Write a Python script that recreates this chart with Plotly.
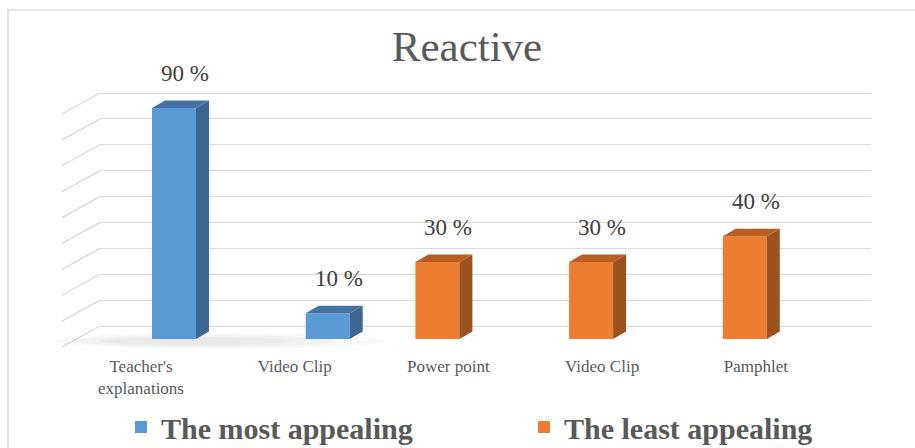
import plotly.graph_objects as go

# ---------------- data ----------------
categories = ["Teacher's<br>explanations", "Video Clip", "Power point", "Video Clip", "Pamphlet"]
most_appealing = [90, 10, None, None, None]
least_appealing = [None, None, 30, 30, 40]
series_names = ["The most appealing", "The least appealing"]
grid_values = list(range(0, 100, 10))
title_text = "Reactive"

# ---------------- geometry / style ----------------
W, H = 915, 448
L, R, T, B = 100, 44, 80, 98
PW, PH = W - L - R, H - T - B

# x: category index 0 at pixel 152, 153.7 px per category
X0_PX, X_UNIT = 152, 153.7
X_RANGE = [(L - X0_PX) / X_UNIT, (L + PW - X0_PX) / X_UNIT]

# back wall (gridlines) scale
WALL_ZERO_PX, WALL_SCALE = 326, 233 / 90
Y_RANGE = [(WALL_ZERO_PX - (T + PH)) / WALL_SCALE, (WALL_ZERO_PX - T) / WALL_SCALE]
# bar plane scale
BAR_ZERO_PX, BAR_SCALE = 339, 231 / 90
Y2_RANGE = [(BAR_ZERO_PX - (T + PH)) / BAR_SCALE, (BAR_ZERO_PX - T) / BAR_SCALE]

BAR_W = 44 / X_UNIT
DEPTH_DX = 13 / X_UNIT
DEPTH_DY = 7.5 / BAR_SCALE

BLUE, BLUE_SIDE, BLUE_TOP = "#5B9BD5", "#3C6694", "#4572A4"
ORANGE, ORANGE_SIDE, ORANGE_TOP = "#ED7D31", "#9C521E", "#B95E22"
GRID = "#D9D9D9"
TXT = "#595959"
FONT = "Liberation Serif, Times New Roman, serif"


def px_x(px):
    return (px - L) / PW


def px_y(py):
    return (T + PH - py) / PH


fig = go.Figure()

series = [
    (most_appealing, series_names[0], BLUE, BLUE_SIDE, BLUE_TOP, 0.0, "legend"),
    (least_appealing, series_names[1], ORANGE, ORANGE_SIDE, ORANGE_TOP, -BAR_W, "legend2"),
]

for vals, name, col, side, top, off, leg in series:
    xs = list(range(len(categories)))
    fig.add_trace(go.Bar(
        x=xs, y=vals, name=name, width=BAR_W, offset=off,
        marker=dict(color=col, line=dict(width=0)),
        yaxis="y2", hoverinfo="skip", legend=leg,
    ))

for vals, name, col, side, top, off, leg in series:
    for i, v in enumerate(vals):
        if v is None:
            continue
        xl = i + off
        xr = xl + BAR_W
        # side face
        fig.add_trace(go.Scatter(
            x=[xr, xr, xr + DEPTH_DX, xr + DEPTH_DX, xr],
            y=[0, v, v + DEPTH_DY, DEPTH_DY, 0],
            fill="toself", fillcolor=side, mode="lines", line=dict(width=0, color=side),
            yaxis="y2", showlegend=False, hoverinfo="skip",
        ))
        # top face
        fig.add_trace(go.Scatter(
            x=[xl, xr, xr + DEPTH_DX, xl + DEPTH_DX, xl],
            y=[v, v, v + DEPTH_DY, v + DEPTH_DY, v],
            fill="toself", fillcolor=top, mode="lines", line=dict(width=0, color=top),
            yaxis="y2", showlegend=False, hoverinfo="skip",
        ))
        fig.add_annotation(
            x=xl + BAR_W / 2, y=v, xref="x", yref="y2", text=f"{v} %",
            showarrow=False, xshift=11, yshift=20, yanchor="bottom",
            font=dict(family=FONT, size=23, color="#404040"),
        )

shapes = []
# outer chart border
shapes.append(dict(type="rect", xref="paper", yref="paper",
                   x0=px_x(8), x1=px_x(935), y0=px_y(470), y1=px_y(10),
                   line=dict(color=GRID, width=1.5), fillcolor="rgba(0,0,0,0)", layer="below"))
# side wall diagonals
for g in grid_values:
    shapes.append(dict(type="line", xref="paper", yref="y",
                       x0=0, x1=px_x(62), y0=g, y1=g - 21 / WALL_SCALE,
                       line=dict(color=GRID, width=1.3), layer="below"))
# floor shadow
for cx, rx, ry, op in [(220, 165, 8, 0.025), (205, 130, 6, 0.03), (195, 95, 4, 0.03)]:
    shapes.append(dict(type="circle", xref="paper", yref="paper",
                       x0=px_x(cx - rx), x1=px_x(cx + rx), y0=px_y(341 + ry), y1=px_y(341 - ry),
                       fillcolor=f"rgba(0,0,0,{op})", line=dict(width=0), layer="below"))

legend_font = dict(family=FONT, size=30, color=TXT, weight="bold")
legend_common = dict(orientation="h", xref="container", xanchor="left",
                     yref="container", y=1 - 427 / H, yanchor="middle",
                     font=legend_font, bgcolor="rgba(0,0,0,0)")

fig.update_layout(
    width=W, height=H,
    margin=dict(l=L, r=R, t=T, b=B, autoexpand=False),
    paper_bgcolor="white", plot_bgcolor="rgba(0,0,0,0)",
    barmode="overlay",
    title=dict(text=title_text, x=467 / W, xref="container", xanchor="center",
               y=1 - 46 / H, yref="container", yanchor="middle",
               font=dict(family=FONT, size=43, color=TXT)),
    xaxis=dict(range=X_RANGE, tickmode="array", tickvals=list(range(len(categories))),
               ticktext=categories, showgrid=False, zeroline=False, showline=False,
               ticks="", ticklabelshift=-11, ticklabelstandoff=4,
               tickfont=dict(family=FONT, size=17, color=TXT), fixedrange=True),
    yaxis=dict(range=Y_RANGE, tickmode="array", tickvals=grid_values, showticklabels=False,
               showgrid=True, gridcolor=GRID, gridwidth=1.3, zeroline=False, showline=False,
               fixedrange=True),
    yaxis2=dict(range=Y2_RANGE, overlaying="y", showgrid=False, zeroline=False,
                showticklabels=False, showline=False, fixedrange=True),
    legend=dict(x=121 / W, **legend_common),
    legend2=dict(x=524 / W, **legend_common),
    shapes=shapes,
    showlegend=True,
)

fig.write_html("out.html", config={"displayModeBar": False},
               post_script="document.body.style.margin='0px';")
